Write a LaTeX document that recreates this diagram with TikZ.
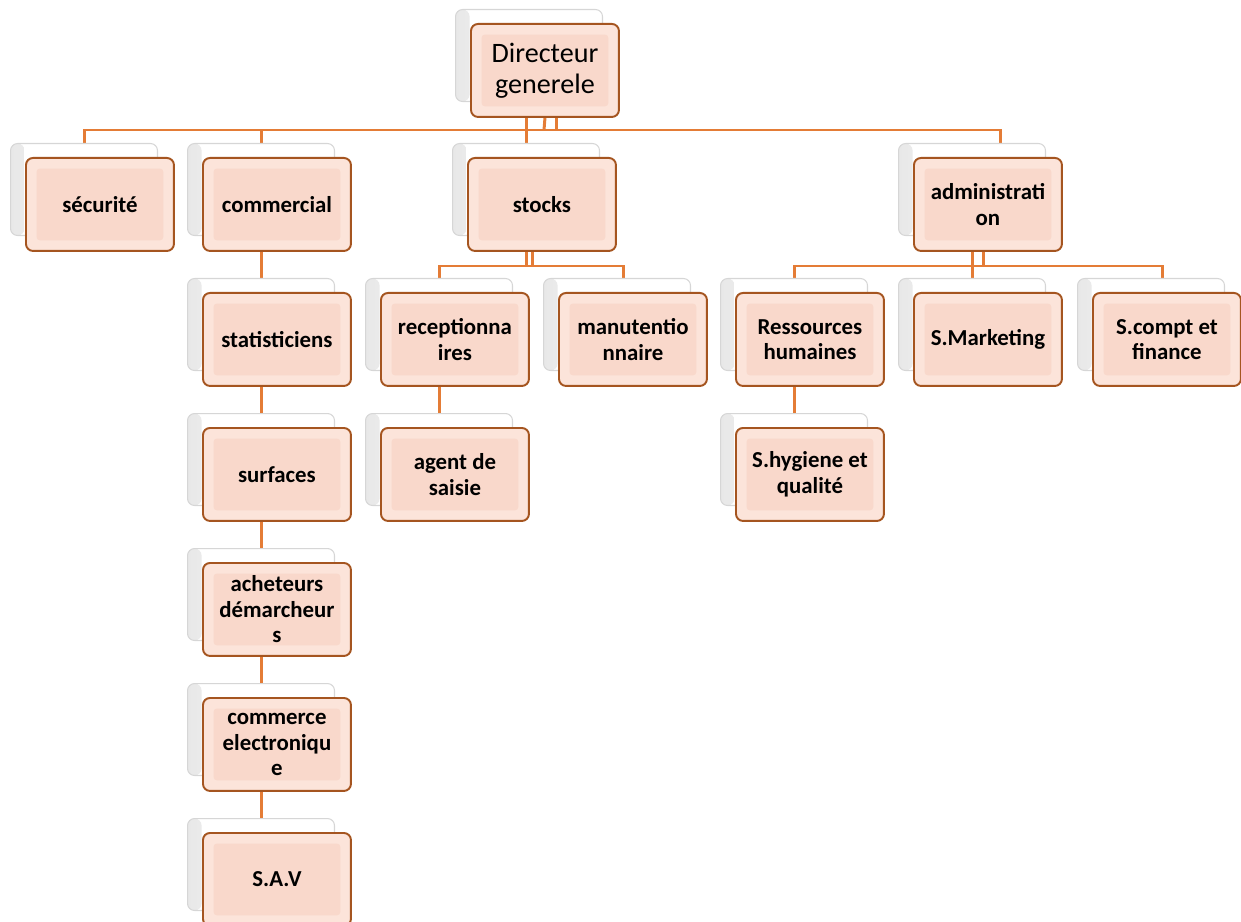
\documentclass[tikz,border=0pt]{standalone}
\usepackage{fontspec}
\setmainfont{Carlito}
\usepackage{tikz}
\usetikzlibrary{positioning,calc,backgrounds}
\definecolor{linkorange}{RGB}{228,124,54}
\definecolor{boxedge}{RGB}{165,85,32}
\definecolor{boxfill}{RGB}{252,228,218}
\definecolor{boxinner}{RGB}{249,216,203}
\newcommand{\unitfont}{\fontsize{13}{14.5}\selectfont\bfseries}
\newcommand{\headfont}{\fontsize{16}{17.5}\selectfont}
\tikzset{
  backbox/.style={draw=black!16, line width=0.6pt, fill=white, rounded corners=4pt,
    minimum width=2.94cm, minimum height=1.84cm, inner sep=0pt, anchor=north west,
    path picture={\shade[left color=black!9, right color=white]
      (path picture bounding box.north west) rectangle ([xshift=8pt]path picture bounding box.south west);}},
  unitbox/.style={draw=boxedge, line width=1.1pt, fill=boxfill, rounded corners=4pt,
    minimum width=2.96cm, minimum height=1.86cm, inner sep=0pt, align=center,
    anchor=north west, font=\unitfont,
    path picture={\fill[boxinner, rounded corners=2pt]
      ([shift={(6pt,-6pt)}]path picture bounding box.north west) rectangle
      ([shift={(-6pt,6pt)}]path picture bounding box.south east);}},
  link/.style={draw=linkorange, line width=1.7pt}
}

\begin{document}
\begin{tikzpicture}[x=0.02cm, y=-0.02cm]
    \useasboundingbox (0,0) rectangle (1241,922);

    % Head of the chart
    \node[backbox] (dirB) at (455,9) {};
    \node[unitbox, font=\headfont] (dir) at (470,23) {Directeur\\generele};

    % All units: name / x / y / label
    \foreach \nm/\x/\y/\txt in {sec/25/157/sécurité, com/202/157/commercial,
        stk/467/157/stocks, adm/913/157/{administrati\\on},
        sta/202/292/statisticiens, sur/202/427/surfaces,
        ach/202/562/{acheteurs\\démarcheur\\s}, cel/202/697/{commerce\\electroniqu\\e},
        sav/202/832/S.A.V,
        rec/380/292/{receptionna\\ires}, age/380/427/{agent de\\saisie},
        man/558/292/{manutentio\\nnaire},
        rh/735/292/{Ressources\\humaines}, hyg/735/427/{S.hygiene et\\qualité},
        mkt/913/292/S.Marketing, cpt/1092/292/{S.compt et\\finance}}
    {
        \node[backbox] (\nm B) at (\x-15,\y-14) {};
        \node[unitbox] (\nm) at (\x,\y) {\txt};
    }

    \begin{scope}[on background layer]
        % First level
        \coordinate (topbus) at (544,130);
        \draw[link] (dir.south) -- (topbus);
        \draw[link] ($(dir.south)+(12,0)$) -- ++(0,13);
        \draw[link] (dir.south -| stkB.north) -- (stkB.north);
        \draw[link] (secB.north) |- (topbus) -| ($(admB.north)+(28,0)$);
        \draw[link] (comB.north) -- (comB.north |- topbus);

        % Commercial column
        \draw[link] (comB.south) -- (savB.north);

        % Stocks
        \coordinate (stkbus) at (530,266);
        \draw[link] (stkB.south) -- (stkB.south |- stkbus);
        \draw[link] ($(stkB.south)+(6,0)$) -- ++(0,31);
        \draw[link] (recB.north) |- (stkbus) -| ($(manB.north)+(6,0)$);
        \draw[link] (recB.south) -- (ageB.north);

        % Administration
        \coordinate (admbus) at (977,266);
        \draw[link] (admB.south) -- (mktB.north);
        \draw[link] ($(admB.south)+(11,0)$) -- ++(0,31);
        \draw[link] (rhB.north) |- (admbus) -| ($(cptB.north)+(11,0)$);
        \draw[link] (rhB.south) -- (hygB.north);
    \end{scope}
\end{tikzpicture}
\end{document}
